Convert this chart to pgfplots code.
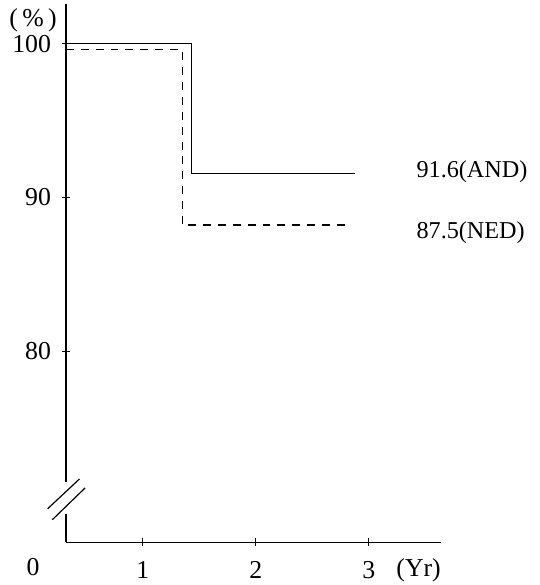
\documentclass[border=0pt]{standalone}
\usepackage{fontspec}
\setmainfont{Liberation Serif}
\usepackage{pgfplots}
\pgfplotsset{compat=1.18}
\begin{document}
\begin{tikzpicture}[font=\fontsize{13}{15}\selectfont]
\begin{axis}[
  scale only axis,
  width=189.24pt, height=271.5pt,
  xmin=0.32, xmax=3.64,
  ymin=67.57, ymax=102.6,
  axis x line=bottom, axis y line=left,
  axis line style={-, line width=0.6pt},
  xtick={1,2,3}, ytick={80,90,100},
  tick align=center, major tick length=4pt,
  tick style={line width=0.5pt, black},
  /pgf/number format/assume math mode=true,
  tick label style={font=\fontsize{13}{15}\selectfont},
  xticklabel style={yshift=-4pt},
  yticklabel style={xshift=-2pt},
  clip=false,
]
% bounding box of the whole picture
\path (axis cs:-0.263,65.1) rectangle (axis cs:4.509,102.84);
\addplot[black, line width=0.6pt] coordinates {(0.32,100) (1.43,100) (1.43,91.55) (2.88,91.55)};
\addplot[black, line width=0.6pt, dash pattern=on 4pt off 3.5pt] coordinates {(0.32,99.6) (1.35,99.6) (1.35,88.2) (2.82,88.2)};
% axis break
\draw[white, line width=3pt] (axis cs:0.32,69.42) -- (axis cs:0.32,71.48);
\draw[black, line width=0.6pt] (axis cs:0.158,69.74) -- (axis cs:0.44,71.68);
\draw[black, line width=0.6pt] (axis cs:0.20,69.03) -- (axis cs:0.49,71.1);
% labels
\node[anchor=west, font=\fontsize{12.2}{14}\selectfont] at (axis cs:3.36,91.7) {91.6(AND)};
\node[anchor=west, font=\fontsize{12.2}{14}\selectfont] at (axis cs:3.36,87.7) {87.5(NED)};
\node at (axis cs:0.03,101.5) {(\,\%\,)};
\node[anchor=north, yshift=-8pt, inner sep=0pt] at (axis cs:0.03,67.57) {0};
\node[anchor=north, yshift=-8pt, inner sep=0pt] at (axis cs:3.44,67.57) {(Yr)};
\end{axis}
\end{tikzpicture}
\end{document}
